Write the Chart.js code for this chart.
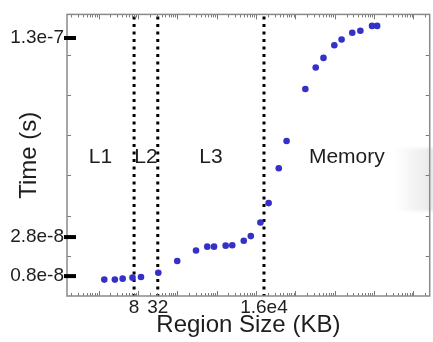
<!DOCTYPE html>
<html>
<head>
<meta charset="utf-8">
<script src="https://cdn.jsdelivr.net/npm/chart.js@4.4.1/dist/chart.umd.min.js"></script>
<style>
  html, body { margin: 0; padding: 0; background: #fff; }
  canvas { display: block; }
</style>
</head>
<body>
<canvas id="chart" width="433" height="342"></canvas>
<script>
// Access time against working-set size, with the cache-level boundaries marked
const sizeKB = [1.4, 2.6, 4.1, 7.3, 12, 33, 100, 300, 580, 860, 1700, 2500, 4900, 7400,
  13000, 21000, 38000, 60000, 180000, 330000, 520000, 980000, 1.5e6, 2.8e6, 4.5e6, 8.9e6, 1.2e7];
const timeSec = [0.62e-8, 0.62e-8, 0.67e-8, 0.72e-8, 0.75e-8, 0.97e-8, 1.57e-8, 2.11e-8,
  2.31e-8, 2.31e-8, 2.36e-8, 2.38e-8, 2.61e-8, 2.85e-8, 3.55e-8, 4.54e-8, 6.33e-8, 7.72e-8,
  10.39e-8, 11.49e-8, 11.98e-8, 12.63e-8, 12.92e-8, 13.27e-8, 13.37e-8, 13.62e-8, 13.62e-8];
const cacheBoundsKB = [8, 32, 16000];
const regionNames = ['L1', 'L2', 'L3', 'Memory'];
const xTickValues = [8, 32, 16000];
const xTickLabels = ['8', '32', '1.6e4'];
const yTickValues = [0.8e-8, 2.8e-8, 1.3e-7];
const yTickLabels = ['0.8e-8', '2.8e-8', '1.3e-7'];

const X_MIN = 0.158, X_MAX = 2.6e8;
const Y_MIN = -0.22e-8, Y_MAX = 14.21e-8;
const FONT = '"Liberation Sans", Arial, Helvetica, sans-serif';
const INK = '#1e1e1e';

Chart.defaults.font.family = FONT;

// Frame, inward tick marks, cache boundaries and region names
const decorations = {
  id: 'decorations',
  beforeDraw(chart) {
    const { ctx } = chart;
    ctx.save();
    // soft grey shading at the right edge
    const g = ctx.createLinearGradient(394, 0, 433, 0);
    g.addColorStop(0, 'rgba(232,232,232,0)');
    g.addColorStop(1, 'rgba(232,232,232,1)');
    ctx.fillStyle = g;
    ctx.filter = 'blur(1.5px)';
    ctx.fillRect(394, 148, 45, 63);
    ctx.filter = 'none';
    ctx.restore();
  },
  beforeDatasetsDraw(chart) {
    const { ctx, chartArea: a, scales: { x } } = chart;
    ctx.save();
    ctx.strokeStyle = '#000';
    ctx.lineWidth = 3;
    ctx.setLineDash([3, 4.5]);
    cacheBoundsKB.forEach(v => {
      const px = x.getPixelForValue(v);
      ctx.beginPath();
      ctx.moveTo(px, a.top + 2);
      ctx.lineTo(px, a.bottom);
      ctx.stroke();
    });
    ctx.setLineDash([]);

    const edges = [a.left, ...cacheBoundsKB.map(v => x.getPixelForValue(v)), a.right];
    const size = 21;
    ctx.font = size + 'px ' + FONT;
    ctx.fillStyle = INK;
    ctx.textAlign = 'center';
    ctx.textBaseline = 'alphabetic';
    const base = (a.top + a.bottom) / 2 + 0.36 * size;
    regionNames.forEach((t, i) => ctx.fillText(t, (edges[i] + edges[i + 1]) / 2, base));
    ctx.restore();
  },
  afterDraw(chart) {
    const { ctx, chartArea: a, scales: { x, y } } = chart;
    ctx.save();
    ctx.strokeStyle = '#7a7a7a';
    ctx.lineWidth = 1;
    // log minor ticks along top and bottom
    for (let e = Math.floor(Math.log10(X_MIN)); e <= Math.ceil(Math.log10(X_MAX)); e++) {
      for (let m = 1; m <= 9; m++) {
        const v = m * Math.pow(10, e);
        if (v <= X_MIN || v >= X_MAX) continue;
        const px = Math.round(x.getPixelForValue(v)) + 0.5;
        const len = m === 1 ? 5 : 3;
        ctx.beginPath();
        ctx.moveTo(px, a.bottom); ctx.lineTo(px, a.bottom - len);
        ctx.moveTo(px, a.top); ctx.lineTo(px, a.top + len);
        ctx.stroke();
      }
    }
    // evenly spaced ticks on left and right
    for (let k = 1; k < 7; k++) {
      const py = Math.round(y.getPixelForValue(Y_MIN + k * (Y_MAX - Y_MIN) / 7)) + 0.5;
      ctx.beginPath();
      ctx.moveTo(a.left, py); ctx.lineTo(a.left + 4, py);
      ctx.moveTo(a.right, py); ctx.lineTo(a.right - 4, py);
      ctx.stroke();
    }
    // frame
    ctx.strokeStyle = '#8a8a8a';
    ctx.lineWidth = 1.5;
    ctx.strokeRect(a.left, a.top, a.right - a.left, a.bottom - a.top);
    // labelled value marks
    ctx.strokeStyle = '#000';
    ctx.lineWidth = 4;
    yTickValues.forEach(v => {
      const py = y.getPixelForValue(v);
      ctx.beginPath();
      ctx.moveTo(a.left - 3, py); ctx.lineTo(a.left + 9, py);
      ctx.stroke();
    });
    ctx.restore();
  }
};

new Chart(document.getElementById('chart'), {
  type: 'scatter',
  data: {
    datasets: [{
      data: sizeKB.map((s, i) => ({ x: s, y: timeSec[i] })),
      pointRadius: 3.3,
      pointHoverRadius: 3.3,
      pointBorderWidth: 0,
      pointBackgroundColor: 'rgb(52,48,200)'
    }]
  },
  options: {
    responsive: false,
    animation: false,
    devicePixelRatio: 1,
    events: [],
    layout: { padding: { top: 5, right: 1, left: 0, bottom: 0 } },
    plugins: { legend: { display: false }, tooltip: { enabled: false } },
    scales: {
      x: {
        type: 'logarithmic',
        min: X_MIN,
        max: X_MAX,
        grid: { display: false, drawTicks: false },
        border: { display: false },
        afterBuildTicks: s => { s.ticks = xTickValues.map(v => ({ value: v })); },
        afterFit: s => { s.height = 46; },
        ticks: {
          autoSkip: false, maxRotation: 0, minRotation: 0, padding: 0,
          color: INK, font: { size: 19 },
          callback: (v, i) => xTickLabels[i]
        },
        title: {
          display: true, text: 'Region Size (KB)', color: INK,
          font: { size: 24 }, padding: { top: 0, bottom: 2 }
        }
      },
      y: {
        type: 'linear',
        min: Y_MIN,
        max: Y_MAX,
        grid: { display: false, drawTicks: false },
        border: { display: false },
        afterBuildTicks: s => { s.ticks = yTickValues.map(v => ({ value: v })); },
        afterFit: s => { s.width = 67; },
        ticks: {
          autoSkip: false, padding: 3,
          color: INK, font: { size: 19 },
          callback: (v, i) => yTickLabels[i]
        },
        title: {
          display: true, text: 'Time (s)', color: INK,
          font: { size: 24 }, padding: { top: 15, bottom: 0 }
        }
      }
    }
  },
  plugins: [decorations]
});
</script>
</body>
</html>
